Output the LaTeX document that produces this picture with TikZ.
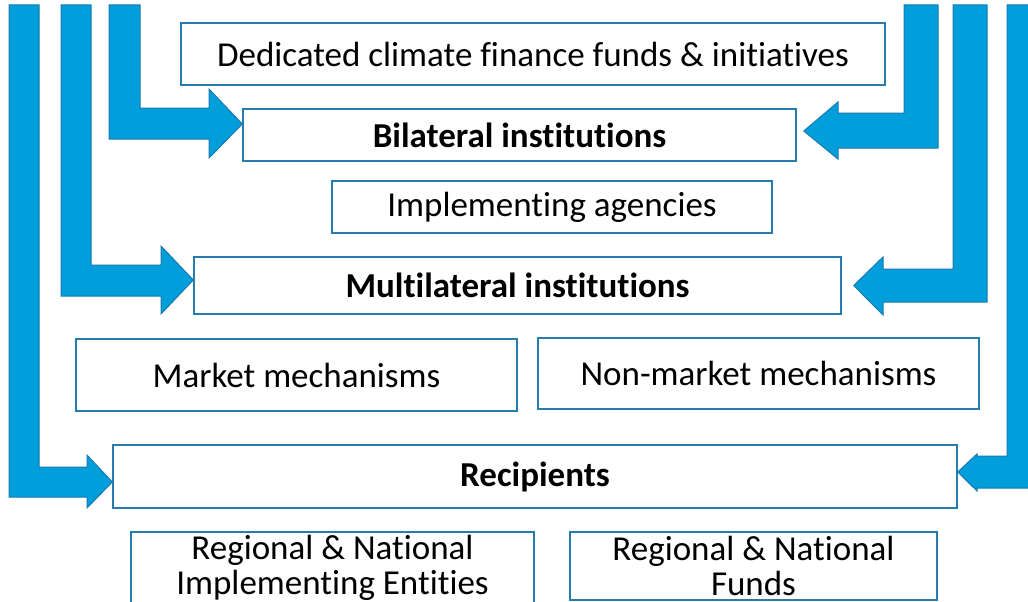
\documentclass[tikz,border=0pt]{standalone}
\usepackage{fontspec}
\setmainfont[Ligatures=NoCommon]{Carlito}
\usetikzlibrary{positioning}
\usetikzlibrary{calc}
\definecolor{flowblue}{RGB}{0,158,219}
\definecolor{flowedge}{RGB}{22,122,176}
\definecolor{boxedge}{RGB}{38,124,172}

\begin{document}
\begin{tikzpicture}[x=1pt, y=-1pt,
                    box/.style={draw=boxedge, line width=1.5pt, fill=white, inner sep=0pt,
                                align=center, font=\fontsize{35}{35}\selectfont},
                    flow/.style={fill=flowblue, draw=flowedge, line width=1pt, line join=miter}]
            \clip (0,0) rectangle (1028,602);

            \node[box, minimum width=704, minimum height=62] (ded) at (533,54) {Dedicated climate finance funds \& initiatives};
            \node[box, minimum width=553, minimum height=52] (bil) at (519.5,135) {\textbf{Bilateral institutions}};
            \node[box, minimum width=440, minimum height=52] (imp) at (552,207) {Implementing agencies};
            \node[box, minimum width=647, minimum height=57] (mul) at (517.5,285.5) {\textbf{Multilateral institutions}};
            \node[box, minimum width=441, minimum height=72] (mkt) at (296.5,375) {Market mechanisms};
            \node[box, minimum width=441, minimum height=71] (nmk) at (758.5,373.5) {Non-market mechanisms};
            \node[box, minimum width=844, minimum height=63] (rec) at (535,476.5) {\textbf{Recipients}};
            \node[box, minimum width=403, minimum height=71] (rne) at (332.5,567.5) {Regional \& National\\Implementing Entities};
            \node[box, minimum width=367, minimum height=68] (rnf) at (753.5,566) {Regional \& National\\Funds};

            % left arrows
            \draw[flow] (9,5) -- (9,497) -- (87,497) -- (87,508) -- ([yshift=-5.5pt]rec.west)
                -- (87,455) -- (87,467) -- (39,467) -- (39,5) -- cycle;
            \draw[flow] (61,5) -- (61,296) -- (161,296) -- (161,314) -- ([yshift=5.5pt]mul.west)
                -- (161,246) -- (161,265) -- (91,265) -- (91,5) -- cycle;
            \draw[flow] (109,5) -- (109,139) -- (209,139) -- (209,158) -- ([yshift=11pt]bil.west)
                -- (209,89) -- (209,108) -- (140,108) -- (140,5) -- cycle;

            % right arrows
            \draw[flow] (938,5) -- (938,148) -- (838,148) -- (838,159) -- ([xshift=7pt,yshift=4pt]bil.east)
                -- (838,102) -- (838,113) -- (904,113) -- (904,5) -- cycle;
            \draw[flow] (987,5) -- (987,302) -- (883,302) -- (883,315) -- ([xshift=12pt]mul.east)
                -- (883,257) -- (883,269) -- (953,269) -- (953,5) -- cycle;
            \draw[flow] (1041,5) -- (1041,488) -- (977,488) -- (977,491) -- ([yshift=4.5pt]rec.east)
                -- (977,454) -- (977,456) -- (1007,456) -- (1007,5) -- cycle;
        \end{tikzpicture}
\end{document}
